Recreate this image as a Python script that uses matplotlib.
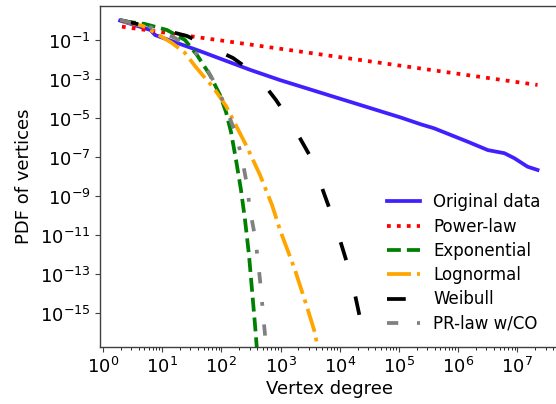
import numpy as np
import matplotlib
matplotlib.use('Agg')
import matplotlib.pyplot as plt
from matplotlib.ticker import FixedLocator, LogLocator, NullLocator, LogFormatterSciNotation

# values, as log10(degree) / log10(pdf)
orig_lx = [0.29, 0.80, 0.88, 1.08, 1.60, 2.49, 2.99, 4.19, 5.03, 5.37, 5.59, 6.16, 6.50, 6.78, 6.95, 7.17, 7.34]
orig_ly = [0.02, -0.46, -0.72, -0.94, -1.50, -2.51, -3.03, -4.16, -4.95, -5.30, -5.50, -6.19, -6.62, -6.78, -7.04, -7.47, -7.64]

pl_lx = [0.32, 3.08, 7.34]
pl_ly = [-0.29, -1.46, -3.28]

exp_lx = [0.321, 0.709, 1.081, 1.385, 1.588, 1.807, 1.976, 2.078, 2.162, 2.247, 2.331, 2.399, 2.466, 2.517, 2.568, 2.601]
exp_ly = [0.0, -0.154, -0.462, -0.974, -1.744, -2.769, -3.795, -4.667, -5.692, -7.128, -8.667, -10.205, -11.999, -13.795, -15.59, -16.872]

logn_lx = [0.321, 0.676, 0.828, 1.166, 1.385, 1.554, 1.723, 1.858, 2.078, 2.432, 2.652, 2.855, 2.990, 3.243, 3.446, 3.581, 3.632]
logn_ly = [0.0, -0.256, -0.513, -1.128, -1.641, -2.308, -2.923, -3.385, -4.359, -6.462, -7.897, -9.436, -10.718, -12.769, -14.667, -16.0, -16.872]

weib_lx = [0.287, 0.507, 0.963, 1.419, 1.807, 2.196, 2.432, 2.686, 2.922, 3.057, 3.277, 3.497, 3.682, 3.834, 4.003, 4.122, 4.240, 4.341, 4.409, 4.443]
weib_ly = [0.051, -0.103, -0.410, -0.769, -1.333, -1.897, -2.410, -3.128, -4.051, -4.667, -5.744, -6.923, -8.410, -9.692, -11.231, -12.410, -13.795, -15.231, -16.359, -17.128]

trunc_lx = [0.287, 0.794, 1.216, 1.470, 1.639, 1.858, 2.061, 2.230, 2.343, 2.427, 2.483, 2.568, 2.623, 2.669, 2.708, 2.748, 2.762]
trunc_ly = [0.051, -0.308, -0.872, -1.385, -1.846, -3.026, -4.308, -5.692, -6.959, -8.323, -9.692, -11.062, -12.426, -13.795, -15.164, -16.446, -16.974]

ytick_exps = [-1, -3, -5, -7, -9, -11, -13, -15]
xtick_exps = [0, 1, 2, 3, 4, 5, 6, 7]


def p(a):
    return 10.0 ** np.asarray(a)


fig = plt.figure(figsize=(5.56, 4.04), dpi=100)
ax = fig.add_axes([100.5 / 556, 1 - 347 / 404, (575 - 100.5) / 556, (347 - 5.5) / 404])

lw = 2.7
ax.plot(p(orig_lx), p(orig_ly), color='#4020ff', lw=lw, label='Original data')
ax.plot(p(pl_lx), p(pl_ly), color='red', lw=lw, ls=':', label='Power-law')
ax.plot(p(exp_lx), p(exp_ly), color='green', lw=lw, ls='--', label='Exponential')
ax.plot(p(logn_lx), p(logn_ly), color='orange', lw=lw, ls='-.', label='Lognormal')
ax.plot(p(weib_lx), p(weib_ly), color='black', lw=lw, ls=(0, (5, 10)), label='Weibull')
ax.plot(p(trunc_lx), p(trunc_ly), color='gray', lw=lw, ls=(0, (3, 5, 1, 5)), label='PR-law w/CO')

ax.set_xscale('log')
ax.set_yscale('log')
ax.set_xlim(10 ** (-2.5 / 59.2), 10 ** ((575 - 103) / 59.2))
ax.set_ylim(10 ** -16.72, 10 ** 0.795)

ax.xaxis.set_major_locator(FixedLocator(p(xtick_exps)))
ax.xaxis.set_minor_locator(LogLocator(base=10, subs=np.arange(2, 10), numticks=50))
ax.xaxis.set_major_formatter(LogFormatterSciNotation())
ax.yaxis.set_major_locator(FixedLocator(p(ytick_exps)))
ax.yaxis.set_minor_locator(NullLocator())
ax.yaxis.set_major_formatter(LogFormatterSciNotation())
ax.tick_params(labelsize=13, color='0.25')
for s in ax.spines.values():
    s.set_color('0.25')
    s.set_linewidth(1.0)

ax.set_xlabel('Vertex degree', fontsize=13)
ax.set_ylabel('PDF of vertices', fontsize=13)
ax.xaxis.set_label_coords((329 - 100.5) / (575 - 100.5), -0.097)
ax.yaxis.set_label_coords(-(100.5 - 33) / (575 - 100.5), 0.5)

ax.legend(loc='upper left', bbox_to_anchor=(380 / 556, 1 - 186.5 / 404),
          bbox_transform=fig.transFigure, frameon=False, fontsize=12,
          borderaxespad=0, labelspacing=0.38)

fig.savefig('out.png', dpi=100)
